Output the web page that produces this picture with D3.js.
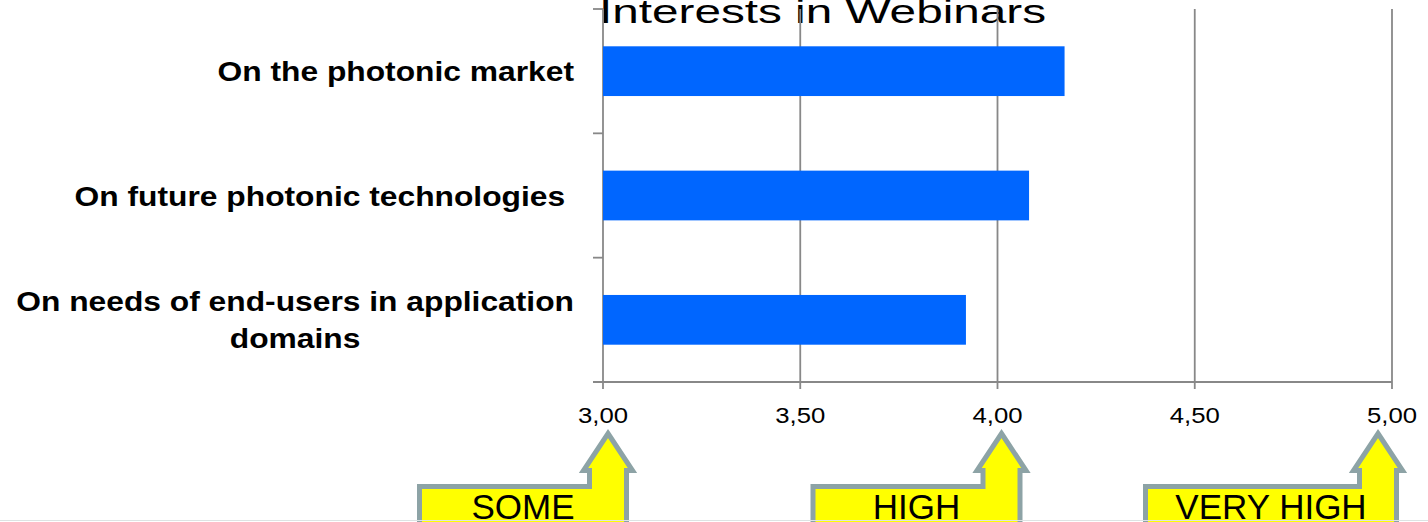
<!DOCTYPE html>
<html><head><meta charset="utf-8">
<script src="https://cdn.jsdelivr.net/npm/d3@7"></script>
<style>html,body{margin:0;padding:0;background:#fff;overflow:hidden} svg{display:block}</style>
</head><body><svg id="c" width="1428" height="522"></svg>
<script>
// ---- data ----
const title = "Interests in Webinars";
const categories = ["On the photonic market", "On future photonic technologies\u00a0", "On needs of end-users in application\ndomains"];
const values = [4.17, 4.08, 3.92];
const xTicks = [3, 3.5, 4, 4.5, 5];
const levelLabels = ["SOME", "HIGH", "VERY HIGH"];
const levelValues = [3, 4, 5];

// ---- layout ----
const W = 1428, H = 522;
const FONT = "'Liberation Sans', Arial, Helvetica, sans-serif";
const gridColor = "#888888";
const barColor = "#0066ff";
const arrowStroke = "#8da3a6";
const arrowLayout = [ {tipDx: 5, boxDx: -191}, {tipDx: 4, boxDx: -191}, {tipDx: -14, boxDx: -235} ];

const svg = d3.select("#c");
svg.append("rect").attr("width", W).attr("height", H).attr("fill", "#fff");

const x = d3.scaleLinear().domain([3, 5]).range([603, 1392]);
const y = d3.scaleBand().domain(categories).range([9, 382]).paddingInner(0.6).paddingOuter(0.3);
const fmt = d3.formatLocale({decimal: ",", thousands: ".", grouping: [3], currency: ["", "€"]}).format(".2f");
const [yTop, yBot] = y.range();

// title
svg.append("text")
  .attr("x", 599).attr("y", 23)
  .attr("font-family", FONT).attr("font-size", 33)
  .attr("textLength", 447).attr("lengthAdjust", "spacingAndGlyphs")
  .attr("fill", "#000")
  .text(title);

// gridlines (incl. the value axis at 3,00)
svg.append("g").selectAll("line").data(xTicks).join("line")
  .attr("x1", d => x(d)).attr("x2", d => x(d))
  .attr("y1", yTop).attr("y2", yBot + 7)
  .attr("stroke", gridColor).attr("stroke-width", 1.8);

// horizontal axis line
svg.append("line")
  .attr("x1", x(3) - 10).attr("x2", x(5))
  .attr("y1", yBot).attr("y2", yBot)
  .attr("stroke", gridColor).attr("stroke-width", 1.8);

// category ticks
const bounds = d3.range(categories.length + 1).map(i => yTop + i * y.step());
svg.append("g").selectAll("line").data(bounds).join("line")
  .attr("x1", x(3) - 10).attr("x2", x(3))
  .attr("y1", d => d).attr("y2", d => d)
  .attr("stroke", gridColor).attr("stroke-width", 1.8);

// bars
svg.append("g").selectAll("rect").data(categories).join("rect")
  .attr("x", x(3))
  .attr("y", d => y(d))
  .attr("width", (d, i) => x(values[i]) - x(3))
  .attr("height", y.bandwidth())
  .attr("fill", barColor);

// x tick labels
svg.append("g").selectAll("text").data(xTicks).join("text")
  .attr("transform", d => `translate(${x(d)},423) scale(1.17,1)`)
  .attr("text-anchor", "middle")
  .attr("font-family", FONT).attr("font-size", 22).attr("fill", "#000")
  .text(d => fmt(d));

// category labels
const labelX = 574, sx = 1.135, lineH = 37;
categories.forEach(c => {
  const lines = c.split("\n");
  const cy = y(c) + y.bandwidth() / 2;
  const g = svg.append("g")
    .attr("transform", `translate(${labelX},${cy + 10 - (lines.length - 1) * lineH / 2}) scale(${sx},1)`);
  const first = g.append("text")
    .attr("x", 0).attr("y", 0).attr("text-anchor", "end")
    .attr("font-family", FONT).attr("font-size", 28).attr("font-weight", "bold").attr("fill", "#000")
    .text(lines[0]);
  const w1 = first.node().getComputedTextLength();
  lines.slice(1).forEach((ln, k) => {
    g.append("text")
      .attr("x", -w1 / 2).attr("y", (k + 1) * lineH).attr("text-anchor", "middle")
      .attr("font-family", FONT).attr("font-size", 28).attr("font-weight", "bold").attr("fill", "#000")
      .text(ln);
  });
});

// level arrows
levelLabels.forEach((lab, i) => {
  const tx = x(levelValues[i]) + arrowLayout[i].tipDx;
  const bl = tx + arrowLayout[i].boxDx;
  const sw = 5, h = sw / 2;
  const tipY = 430, headY = 468, boxY = 484, bottom = 540;
  const headHW = 27, colHW = 21;
  const pts = [
    [tx, tipY + 3.5],
    [tx + headHW - h, headY + h],
    [tx + colHW - h, headY + h],
    [tx + colHW - h, bottom],
    [bl + h, bottom],
    [bl + h, boxY + h],
    [tx - colHW + h, boxY + h],
    [tx - colHW + h, headY + h],
    [tx - headHW + h, headY + h]
  ];
  svg.append("path")
    .attr("d", d3.line()(pts) + "Z")
    .attr("fill", "#ffff00").attr("stroke", arrowStroke).attr("stroke-width", sw)
    .attr("stroke-linejoin", "miter");
  svg.append("text")
    .attr("x", (bl + tx + colHW) / 2).attr("y", 519)
    .attr("text-anchor", "middle")
    .attr("font-family", FONT).attr("font-size", 35).attr("fill", "#000")
    .text(lab);
});

// bottom border line
svg.append("rect").attr("x", 0).attr("y", 520).attr("width", W).attr("height", 1).attr("fill", "#dde3e3");
</script>
</body></html>
